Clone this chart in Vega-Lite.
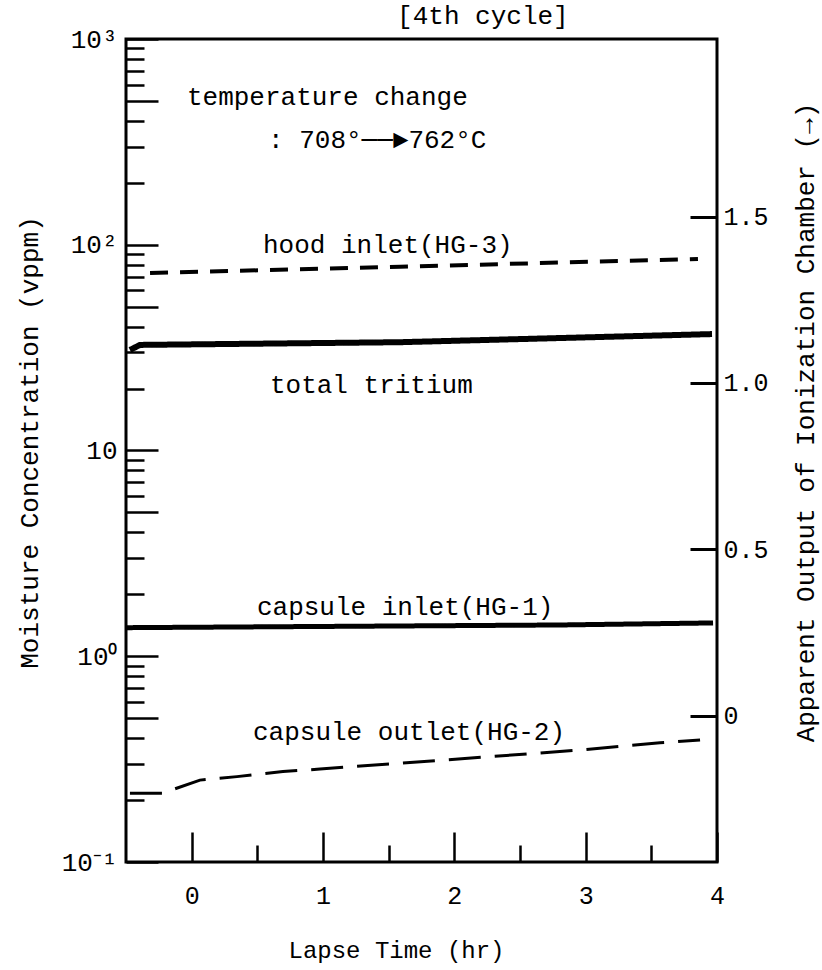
{
  "$schema": "https://vega.github.io/schema/vega-lite/v6.json",
  "width": 591,
  "height": 823,
  "autosize": "none",
  "padding": {"left": 126, "top": 39, "right": 105, "bottom": 108},
  "background": "white",
  "config": {
    "view": {"stroke": "black", "strokeWidth": 3},
    "font": "Liberation Mono",
    "axis": {"grid": false, "domain": false, "labelFont": "Liberation Mono", "titleFont": "Liberation Mono", "labelColor": "black", "titleColor": "black", "tickColor": "black", "titleFontWeight": "normal"}
  },
  "datasets": {
    "lines": [
      {"series": "hood inlet (HG-3)", "time_hr": -0.317, "moisture_vppm": 72.9},
      {"series": "hood inlet (HG-3)", "time_hr": 1.586, "moisture_vppm": 78.2},
      {"series": "hood inlet (HG-3)", "time_hr": 3.855, "moisture_vppm": 85.3},
      {"series": "total tritium", "time_hr": -0.47, "moisture_vppm": 30.8},
      {"series": "total tritium", "time_hr": -0.393, "moisture_vppm": 32.6},
      {"series": "total tritium", "time_hr": 1.586, "moisture_vppm": 33.6},
      {"series": "total tritium", "time_hr": 3.962, "moisture_vppm": 36.8},
      {"series": "capsule inlet (HG-1)", "time_hr": -0.5, "moisture_vppm": 1.377},
      {"series": "capsule inlet (HG-1)", "time_hr": 2.8, "moisture_vppm": 1.419},
      {"series": "capsule inlet (HG-1)", "time_hr": 3.97, "moisture_vppm": 1.452},
      {"series": "capsule outlet (HG-2)", "time_hr": -0.47, "moisture_vppm": 0.216},
      {"series": "capsule outlet (HG-2)", "time_hr": -0.218, "moisture_vppm": 0.216},
      {"series": "capsule outlet (HG-2)", "time_hr": -0.152, "moisture_vppm": 0.224},
      {"series": "capsule outlet (HG-2)", "time_hr": 0.063, "moisture_vppm": 0.25},
      {"series": "capsule outlet (HG-2)", "time_hr": 0.345, "moisture_vppm": 0.26},
      {"series": "capsule outlet (HG-2)", "time_hr": 0.695, "moisture_vppm": 0.275},
      {"series": "capsule outlet (HG-2)", "time_hr": 0.977, "moisture_vppm": 0.283},
      {"series": "capsule outlet (HG-2)", "time_hr": 2.957, "moisture_vppm": 0.35},
      {"series": "capsule outlet (HG-2)", "time_hr": 3.566, "moisture_vppm": 0.38},
      {"series": "capsule outlet (HG-2)", "time_hr": 3.871, "moisture_vppm": 0.392}
    ],
    "notes": [
      {"label": "[4th cycle]", "time_hr": 1.564, "moisture_vppm": 1300},
      {"label": "temperature change", "time_hr": -0.036, "moisture_vppm": 522},
      {"label": ":  708°──►762°C", "time_hr": 0.581, "moisture_vppm": 323},
      {"label": "hood inlet(HG-3)", "time_hr": 0.543, "moisture_vppm": 100},
      {"label": "total tritium", "time_hr": 0.596, "moisture_vppm": 20.8},
      {"label": "capsule inlet(HG-1)", "time_hr": 0.497, "moisture_vppm": 1.74},
      {"label": "capsule outlet(HG-2)", "time_hr": 0.467, "moisture_vppm": 0.43}
    ],
    "output": [{"output": 0}, {"output": 0.5}, {"output": 1.0}, {"output": 1.5}]
  },
  "layer": [
    {
      "data": {"name": "lines"},
      "mark": {"type": "line", "color": "black", "strokeCap": "butt"},
      "encoding": {
        "x": {
          "field": "time_hr", "type": "quantitative",
          "scale": {"domain": [-0.5, 4], "nice": false, "zero": false},
          "axis": {
            "values": [0, 0.5, 1, 1.5, 2, 2.5, 3, 3.5, 4],
            "labelExpr": "datum.value % 1 == 0 ? format(datum.value, 'd') : ''",
            "labelFlush": false, "labelOverlap": false,
            "labelFontSize": 25, "labelBaseline": "middle", "labelPadding": 63,
            "tickSize": {"condition": {"test": "datum.value % 1 == 0", "value": -30}, "value": -17},
            "tickWidth": 2.5,
            "title": "Lapse Time (hr)", "titleFontSize": 24,
            "titleX": 270, "titleY": 88, "titleAlign": "center", "titleBaseline": "middle"
          }
        },
        "y": {
          "field": "moisture_vppm", "type": "quantitative",
          "scale": {"type": "log", "domain": [0.1, 1000], "nice": false},
          "axis": {
            "orient": "left",
            "values": [0.1, 0.2, 0.3, 0.4, 0.5, 0.6, 0.7, 0.8, 0.9, 1, 2, 3, 4, 5, 6, 7, 8, 9, 10, 20, 30, 40, 50, 60, 70, 80, 90, 100, 200, 300, 400, 500, 600, 700, 800, 900, 1000],
            "labelExpr": "datum.value == 1000 ? '10³' : datum.value == 100 ? '10²' : datum.value == 10 ? '10' : datum.value == 1 ? '10⁰' : datum.value == 0.1 ? '10⁻¹' : ''",
            "labelFlush": false, "labelOverlap": false,
            "labelFontSize": 26, "labelAlign": "right", "labelBaseline": "middle", "labelPadding": 41,
            "tickSize": {"condition": {"test": "abs(datum.value / pow(10, floor(log(datum.value) / LN10 + 1e-6)) - 1) < 0.01 || abs(datum.value / pow(10, floor(log(datum.value) / LN10 + 1e-6)) - 5) < 0.01", "value": -32}, "value": -18},
            "tickWidth": 2.5,
            "title": "Moisture Concentration (vppm)", "titleFontSize": 26,
            "titleAngle": -90, "titleX": -97, "titleY": 403, "titleAlign": "center", "titleBaseline": "middle"
          }
        },
        "strokeDash": {
          "field": "series", "type": "nominal",
          "scale": {"domain": ["total tritium", "capsule inlet (HG-1)", "hood inlet (HG-3)", "capsule outlet (HG-2)"], "range": [[1, 0], [1, 0], [18, 12], [32, 14]]},
          "legend": null
        },
        "strokeWidth": {
          "field": "series", "type": "nominal",
          "scale": {"domain": ["total tritium", "capsule inlet (HG-1)", "hood inlet (HG-3)", "capsule outlet (HG-2)"], "range": [6, 3, 3, 3]},
          "legend": null
        }
      }
    },
    {
      "data": {"name": "notes"},
      "mark": {"type": "text", "align": "left", "baseline": "middle", "fontSize": 26, "font": "Liberation Mono", "color": "black"},
      "encoding": {
        "x": {
          "field": "time_hr", "type": "quantitative",
          "scale": {"domain": [-0.5, 4], "nice": false, "zero": false}
        },
        "y": {
          "field": "moisture_vppm", "type": "quantitative",
          "scale": {"type": "log", "domain": [0.1, 1000], "nice": false},
          "axis": null
        },
        "text": {"field": "label"}
      }
    },
    {
      "data": {"name": "output"},
      "mark": {"type": "point", "opacity": 0},
      "encoding": {
        "y": {
          "field": "output", "type": "quantitative",
          "scale": {"domain": [-0.44, 2.034], "nice": false, "zero": false},
          "axis": {
            "orient": "right",
            "values": [0, 0.5, 1, 1.5],
            "labelExpr": "datum.value == 0 ? '0' : format(datum.value, '.1f')",
            "labelFlush": false, "labelOverlap": false,
            "labelFontSize": 25, "labelAlign": "left", "labelBaseline": "middle", "labelPadding": 33,
            "tickSize": -27, "tickWidth": 3,
            "title": "Apparent Output of Ionization Chamber (→)", "titleFontSize": 26,
            "titleAngle": -90, "titleX": 88, "titleY": 383, "titleAlign": "center", "titleBaseline": "middle"
          }
        }
      }
    }
  ],
  "resolve": {"scale": {"y": "independent"}}
}
